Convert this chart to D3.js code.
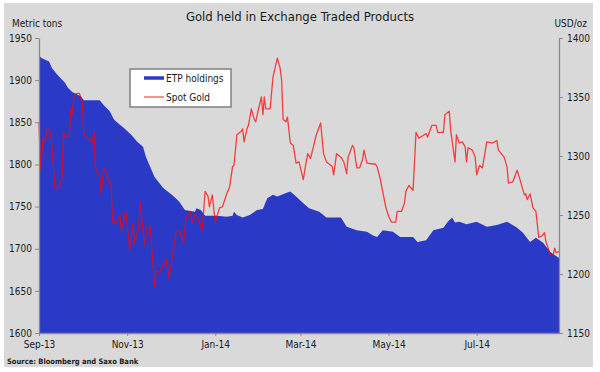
<!DOCTYPE html>
<html>
<head>
<meta charset="utf-8">
<script src="https://cdn.jsdelivr.net/npm/d3@7"></script>
<style>
  body { margin: 0; background: #fff; }
  svg { display: block; }
  text { font-family: "DejaVu Sans Condensed", "DejaVu Sans", sans-serif; fill: #1a1a1a; }
</style>
</head>
<body>
<div id="chart"></div>
<script>
// ETP holdings, metric tons (left axis)
const etpDates = ["2013-09-01","2013-09-03","2013-09-08","2013-09-10","2013-09-13","2013-09-15","2013-09-19","2013-09-21","2013-09-24","2013-09-30",
  "2013-10-02","2013-10-13","2013-10-16","2013-10-20","2013-10-23","2013-10-27","2013-10-30","2013-11-04","2013-11-08","2013-11-12",
  "2013-11-14","2013-11-17","2013-11-20","2013-11-26","2013-12-02","2013-12-07","2013-12-11","2013-12-18","2013-12-19","2013-12-22",
  "2013-12-25","2014-01-02","2014-01-09","2014-01-13","2014-01-14","2014-01-16","2014-01-20","2014-01-25","2014-01-30","2014-02-03",
  "2014-02-06","2014-02-10","2014-02-13","2014-02-19","2014-02-22","2014-02-26","2014-03-03","2014-03-07","2014-03-14","2014-03-19",
  "2014-03-29","2014-04-02","2014-04-09","2014-04-16","2014-04-20","2014-04-23","2014-04-27","2014-05-04","2014-05-09","2014-05-18",
  "2014-05-21","2014-05-27","2014-06-01","2014-06-08","2014-06-11","2014-06-14","2014-06-16","2014-06-19","2014-06-24","2014-07-01",
  "2014-07-08","2014-07-15","2014-07-22","2014-07-29","2014-08-02","2014-08-07","2014-08-11","2014-08-16","2014-08-21","2014-08-27"];
const etpTons = [1929,1926,1922,1914,1908,1904,1897,1891,1886,1881,
  1876,1876,1870,1863,1853,1847,1843,1835,1827,1821,
  1809,1797,1785,1772,1764,1756,1746,1744,1748,1746,
  1739,1739,1738,1739,1744,1740,1737,1740,1746,1747,
  1760,1764,1762,1766,1768,1762,1754,1748,1744,1737,
  1737,1726,1722,1720,1716,1714,1722,1720,1714,1714,
  1708,1710,1722,1725,1732,1737,1731,1732,1729,1732,
  1726,1728,1732,1725,1719,1708,1713,1707,1696,1689];

// Spot gold, USD/oz (right axis)
const goldDates = ["2013-09-01","2013-09-02","2013-09-04","2013-09-05","2013-09-07","2013-09-09","2013-09-10","2013-09-12","2013-09-15","2013-09-17",
  "2013-09-18","2013-09-19","2013-09-22","2013-09-23","2013-09-24","2013-09-25","2013-09-27","2013-09-29","2013-10-01","2013-10-02",
  "2013-10-05","2013-10-08","2013-10-09","2013-10-10","2013-10-13","2013-10-14","2013-10-16","2013-10-18","2013-10-21","2013-10-22",
  "2013-10-24","2013-10-27","2013-10-28","2013-10-31","2013-11-03","2013-11-05","2013-11-06","2013-11-09","2013-11-10","2013-11-13",
  "2013-11-15","2013-11-17","2013-11-20","2013-11-21","2013-11-23","2013-11-28","2013-11-30","2013-12-05","2013-12-07","2013-12-10",
  "2013-12-12","2013-12-15","2013-12-16","2013-12-18","2013-12-20","2013-12-23","2013-12-25","2013-12-27","2013-12-28","2013-12-30",
  "2014-01-01","2014-01-04","2014-01-06","2014-01-09","2014-01-11","2014-01-13","2014-01-14","2014-01-16","2014-01-19","2014-01-20",
  "2014-01-21","2014-01-23","2014-01-24","2014-01-26","2014-01-28","2014-01-29","2014-01-31","2014-02-02","2014-02-03","2014-02-04",
  "2014-02-05","2014-02-08","2014-02-10","2014-02-13","2014-02-15","2014-02-16","2014-02-17","2014-02-19","2014-02-20","2014-02-22",
  "2014-02-24","2014-02-26","2014-02-28","2014-03-03","2014-03-04","2014-03-06","2014-03-08","2014-03-10","2014-03-12","2014-03-15",
  "2014-03-17","2014-03-19","2014-03-23","2014-03-24","2014-03-26","2014-03-29","2014-03-31","2014-04-02","2014-04-03","2014-04-06",
  "2014-04-07","2014-04-09","2014-04-11","2014-04-13","2014-04-14","2014-04-16","2014-04-22","2014-04-23","2014-04-25","2014-04-29",
  "2014-05-01","2014-05-03","2014-05-06","2014-05-07","2014-05-10","2014-05-12","2014-05-13","2014-05-15","2014-05-18","2014-05-20",
  "2014-05-22","2014-05-27","2014-05-28","2014-05-31","2014-06-03","2014-06-04","2014-06-08","2014-06-09","2014-06-12","2014-06-13",
  "2014-06-16","2014-06-17","2014-06-19","2014-06-21","2014-06-23","2014-06-24","2014-06-25","2014-06-28","2014-06-30","2014-07-01",
  "2014-07-03","2014-07-05","2014-07-08","2014-07-12","2014-07-15","2014-07-16","2014-07-20","2014-07-22","2014-07-23","2014-07-26",
  "2014-07-29","2014-07-31","2014-08-03","2014-08-04","2014-08-05","2014-08-07","2014-08-09","2014-08-11","2014-08-13","2014-08-15",
  "2014-08-17","2014-08-18","2014-08-19","2014-08-21","2014-08-23","2014-08-24","2014-08-25","2014-08-27"];
const goldPrice = [1329,1288,1316,1312,1323,1319,1308,1273,1273,1282,
  1321,1316,1316,1339,1335,1349,1353,1353,1346,1319,
  1315,1312,1321,1290,1282,1268,1290,1284,1274,1244,
  1243,1250,1237,1253,1220,1243,1226,1239,1261,1225,
  1240,1240,1189,1203,1201,1212,1196,1236,1237,1226,
  1249,1253,1243,1251,1247,1237,1270,1266,1257,1267,
  1244,1256,1257,1268,1274,1291,1292,1318,1321,1323,
  1312,1323,1326,1340,1331,1329,1340,1350,1335,1350,
  1340,1340,1367,1383,1374,1364,1331,1329,1333,1311,
  1309,1294,1295,1280,1288,1302,1298,1308,1318,1328,
  1302,1295,1291,1284,1302,1299,1295,1285,1299,1309,
  1307,1290,1290,1297,1305,1294,1293,1291,1282,1257,
  1249,1244,1244,1253,1253,1260,1270,1275,1271,1320,
  1315,1319,1316,1326,1326,1320,1320,1335,1338,1322,
  1295,1318,1311,1312,1308,1295,1307,1305,1299,1284,
  1292,1290,1312,1311,1313,1305,1299,1291,1277,1278,
  1288,1280,1267,1268,1263,1268,1256,1253,1231,1232,
  1235,1227,1224,1216,1216,1222,1218,1219];

const leftTicks = [1600, 1650, 1700, 1750, 1800, 1850, 1900, 1950];
const rightTicks = [1150, 1200, 1250, 1300, 1350, 1400];

const width = 600, height = 372;
const parse = d3.timeParse("%Y-%m-%d");
const etp = etpDates.map((d, i) => ({ date: parse(d), v: etpTons[i] }));
const gold = goldDates.map((d, i) => ({ date: parse(d), v: goldPrice[i] }));

const x = d3.scaleTime()
    .domain([parse("2013-09-01"), parse("2014-08-27")])
    .range([39, 559]);
const yL = d3.scaleLinear().domain([1600, 1950]).range([333, 38]);
const yR = d3.scaleLinear().domain([1150, 1400]).range([333, 38]);

const svg = d3.select("#chart").append("svg")
    .attr("width", width)
    .attr("height", height)
    .attr("viewBox", [0, 0, width, height]);

// panel background
svg.append("rect")
    .attr("x", 4).attr("y", 3)
    .attr("width", 589).attr("height", 364)
    .attr("fill", "#d9d9d9");

svg.append("text")
    .attr("x", 300).attr("y", 21)
    .attr("text-anchor", "middle")
    .attr("font-size", 13)
    .text("Gold held in Exchange Traded Products");

// ETP holdings area
svg.append("path")
    .datum(etp)
    .attr("fill", "#2b3ac6")
    .attr("d", d3.area()
        .x(d => x(d.date))
        .y0(yL(1600))
        .y1(d => yL(d.v)));

// spot gold line (semi-transparent red, darkens over the blue area)
svg.append("path")
    .datum(gold)
    .attr("fill", "none")
    .attr("stroke", "#ff0000")
    .attr("stroke-opacity", 0.72)
    .attr("stroke-width", 1.3)
    .attr("stroke-linejoin", "round")
    .attr("d", d3.line()
        .x(d => x(d.date))
        .y(d => yR(d.v)));

const axisColor = "#8a8a8a";

const gL = svg.append("g")
    .attr("transform", "translate(39,0)")
    .call(d3.axisLeft(yL).tickValues(leftTicks).tickFormat(d3.format("d"))
        .tickSize(4).tickSizeOuter(0).tickPadding(3));

const gR = svg.append("g")
    .attr("transform", "translate(559,0)")
    .call(d3.axisRight(yR).tickValues(rightTicks).tickFormat(d3.format("d"))
        .tickSize(4).tickSizeOuter(0).tickPadding(4));

const gB = svg.append("g")
    .attr("transform", "translate(0,333)")
    .call(d3.axisBottom(x)
        .ticks(d3.timeMonth.every(2))
        .tickFormat(d3.timeFormat("%b-%y"))
        .tickSize(3).tickSizeOuter(0).tickPadding(5));

[gL, gR, gB].forEach(g => {
    g.selectAll("path.domain").attr("stroke", axisColor).attr("stroke-width", 1.3);
    g.selectAll(".tick line").attr("stroke", axisColor);
    g.selectAll(".tick text")
        .attr("font-family", "DejaVu Sans Condensed, DejaVu Sans, sans-serif")
        .attr("font-size", 10)
        .attr("fill", "#1a1a1a");
});

svg.append("text")
    .attr("x", 12).attr("y", 27)
    .attr("font-size", 10)
    .text("Metric tons");

svg.append("text")
    .attr("x", 587).attr("y", 27)
    .attr("text-anchor", "end")
    .attr("font-size", 10)
    .text("USD/oz");

svg.append("text")
    .attr("x", 7).attr("y", 364)
    .attr("font-size", 7.5)
    .attr("font-weight", "bold")
    .attr("fill", "#333")
    .text("Source: Bloomberg and Saxo Bank");

// legend
const legend = svg.append("g");
legend.append("rect")
    .attr("x", 130).attr("y", 69)
    .attr("width", 101).attr("height", 38)
    .attr("fill", "#fff")
    .attr("stroke", "#808080")
    .attr("stroke-width", 1.5);

const items = [
    { name: "ETP holdings", color: "#2b3ac6", w: 3.5, y: 78, op: 1 },
    { name: "Spot Gold", color: "#ff0000", w: 1.5, y: 97, op: 0.6 }
];
items.forEach(it => {
    legend.append("line")
        .attr("x1", 144).attr("x2", 164)
        .attr("y1", it.y).attr("y2", it.y)
        .attr("stroke", it.color)
        .attr("stroke-opacity", it.op)
        .attr("stroke-width", it.w);
    legend.append("text")
        .attr("x", 166).attr("y", it.y)
        .attr("dy", "0.35em")
        .attr("font-size", 10)
        .text(it.name);
});
</script>
</body>
</html>
